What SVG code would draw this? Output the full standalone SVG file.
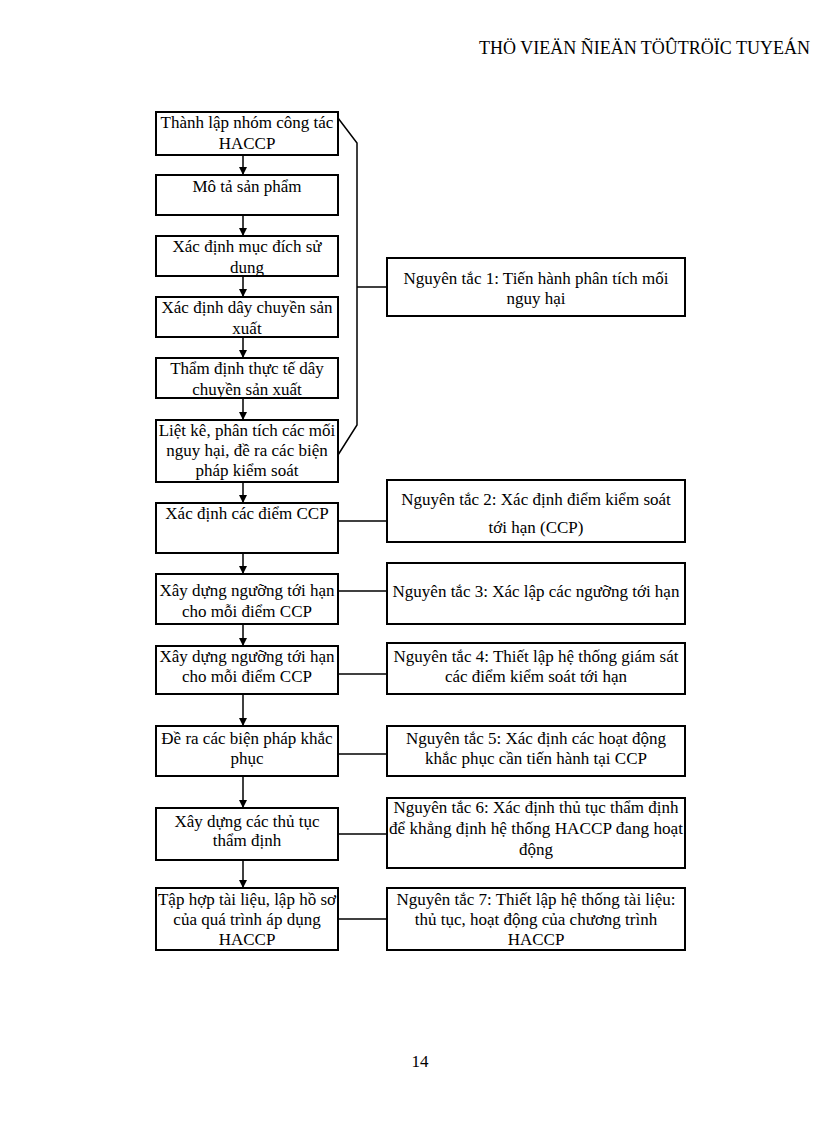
<svg xmlns="http://www.w3.org/2000/svg" width="816" height="1123" viewBox="0 0 816 1123">
<style>
text{font-family:"Liberation Serif","Times New Roman",serif;font-size:17px;fill:#000;text-anchor:middle}
.b{fill:#fff;stroke:#000;stroke-width:2}
.c{stroke:#000;stroke-width:1.5;fill:none}
</style>
<defs>
<marker id="ah" viewBox="0 0 8 8" refX="8" refY="4" markerWidth="8" markerHeight="8" markerUnits="userSpaceOnUse" orient="auto">
<path d="M0,0 L8,4 L0,8 Z" fill="#000"/>
</marker>
</defs>
<rect width="816" height="1123" fill="#fff"/>
<text x="810" y="54" style="text-anchor:end;font-size:18px">THÖ VIEÄN ÑIEÄN TÖÛTRÖÏC TUYEÁN</text>
<g id="connectors">
<line class="c" x1="243" y1="155" x2="243" y2="175" marker-end="url(#ah)"/>
<line class="c" x1="243" y1="215" x2="243" y2="236" marker-end="url(#ah)"/>
<line class="c" x1="243" y1="276" x2="243" y2="297" marker-end="url(#ah)"/>
<line class="c" x1="243" y1="337" x2="243" y2="358" marker-end="url(#ah)"/>
<line class="c" x1="243" y1="398" x2="243" y2="420" marker-end="url(#ah)"/>
<line class="c" x1="243" y1="482" x2="243" y2="503" marker-end="url(#ah)"/>
<line class="c" x1="243" y1="553" x2="243" y2="574" marker-end="url(#ah)"/>
<line class="c" x1="243" y1="624" x2="243" y2="646" marker-end="url(#ah)"/>
<line class="c" x1="243" y1="694" x2="243" y2="726" marker-end="url(#ah)"/>
<line class="c" x1="243" y1="776" x2="243" y2="808" marker-end="url(#ah)"/>
<line class="c" x1="243" y1="860" x2="243" y2="888" marker-end="url(#ah)"/>
<polyline class="c" points="338,118 357,143 357,425 338,455"/>
<line class="c" x1="357" y1="287" x2="387" y2="287"/>
<line class="c" x1="338" y1="521" x2="387" y2="521"/>
<line class="c" x1="338" y1="591" x2="387" y2="591"/>
<line class="c" x1="338" y1="674" x2="387" y2="674"/>
<line class="c" x1="338" y1="754" x2="387" y2="754"/>
<line class="c" x1="338" y1="834" x2="387" y2="834"/>
<line class="c" x1="338" y1="919" x2="387" y2="919"/>
</g>
<g id="n1"><rect class="b" x="156" y="112" width="182" height="43"/><text x="247" y="128">Thành lập nhóm công tác</text><text x="247" y="149">HACCP</text></g>
<g id="n2"><rect class="b" x="156" y="175" width="182" height="40"/><text x="247" y="192">Mô tả sản phẩm</text></g>
<g id="n3"><rect class="b" x="156" y="236" width="182" height="40"/><text x="247" y="252">Xác định mục đích sử</text><text x="247" y="273">dung</text></g>
<g id="n4"><rect class="b" x="156" y="297" width="182" height="40"/><text x="247" y="313">Xác định dây chuyền sản</text><text x="247" y="334">xuất</text></g>
<g id="n5"><rect class="b" x="156" y="358" width="182" height="40"/><text x="247" y="374">Thẩm định thực tế dây</text><text x="247" y="395">chuyền sản xuất</text></g>
<g id="n6"><rect class="b" x="156" y="420" width="182" height="62"/><text x="247" y="436">Liệt kê, phân tích các mối</text><text x="247" y="456">nguy hại, đề ra các biện</text><text x="247" y="476">pháp kiểm soát</text></g>
<g id="n7"><rect class="b" x="156" y="503" width="182" height="50"/><text x="247" y="519">Xác định các điểm CCP</text></g>
<g id="n8"><rect class="b" x="156" y="574" width="182" height="50"/><text x="247" y="596">Xây dựng ngưỡng tới hạn</text><text x="247" y="617">cho mỗi điểm CCP</text></g>
<g id="n9"><rect class="b" x="156" y="646" width="182" height="48"/><text x="247" y="662">Xây dựng ngưỡng tới hạn</text><text x="247" y="682">cho mỗi điểm CCP</text></g>
<g id="n10"><rect class="b" x="156" y="726" width="182" height="50"/><text x="247" y="744">Đề ra các biện pháp khắc</text><text x="247" y="764">phục</text></g>
<g id="n11"><rect class="b" x="156" y="808" width="182" height="52"/><text x="247" y="827">Xây dựng các thủ tục</text><text x="247" y="846">thẩm định</text></g>
<g id="n12"><rect class="b" x="156" y="888" width="182" height="62"/><text x="247" y="905">Tập hợp tài liệu, lập hồ sơ</text><text x="247" y="925">của quá trình áp dụng</text><text x="247" y="945">HACCP</text></g>
<g id="r1"><rect class="b" x="387" y="258" width="298" height="58"/><text x="536" y="284">Nguyên tắc 1: Tiến hành phân tích mối</text><text x="536" y="304">nguy hại</text></g>
<g id="r2"><rect class="b" x="387" y="480" width="298" height="62"/><text x="536" y="505">Nguyên tắc 2: Xác định điểm kiểm soát</text><text x="536" y="533">tới hạn (CCP)</text></g>
<g id="r3"><rect class="b" x="387" y="563" width="298" height="61"/><text x="536" y="597">Nguyên tắc 3: Xác lập các ngưỡng tới hạn</text></g>
<g id="r4"><rect class="b" x="387" y="643" width="298" height="51"/><text x="536" y="662">Nguyên tắc 4: Thiết lập hệ thống giám sát</text><text x="536" y="682">các điểm kiểm soát tới hạn</text></g>
<g id="r5"><rect class="b" x="387" y="726" width="298" height="50"/><text x="536" y="744">Nguyên tắc 5: Xác định các hoạt động</text><text x="536" y="764">khắc phục cần tiến hành tại CCP</text></g>
<g id="r6"><rect class="b" x="387" y="798" width="298" height="70"/><text x="536" y="813">Nguyên tắc 6: Xác định thủ tục thẩm định</text><text x="536" y="834" textLength="294" lengthAdjust="spacingAndGlyphs">để khẳng định hệ thống HACCP đang hoạt</text><text x="536" y="855">động</text></g>
<g id="r7"><rect class="b" x="387" y="888" width="298" height="62"/><text x="536" y="905">Nguyên tắc 7: Thiết lập hệ thống tài liệu:</text><text x="536" y="925">thủ tục, hoạt động của chương trình</text><text x="536" y="945">HACCP</text></g>
<text x="420" y="1067">14</text>
</svg>
